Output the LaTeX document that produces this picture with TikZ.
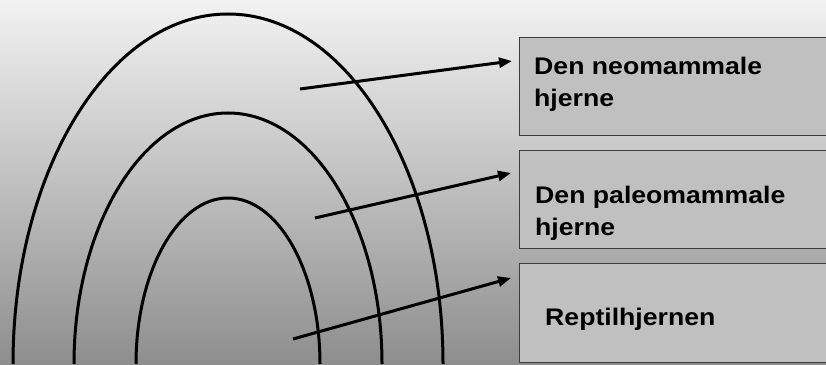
\documentclass[tikz,border=0pt]{standalone}
\usepackage{fontspec}
\setmainfont{Liberation Sans}[FakeStretch=1.11]
\usetikzlibrary{arrows.meta,calc}
\definecolor{bgtop}{RGB}{242,242,242}
\definecolor{bgbot}{RGB}{142,142,142}
\definecolor{boxfill}{RGB}{192,192,192}
\definecolor{boxline}{RGB}{60,60,60}
\tikzset{
  arch/.style={line width=3pt,black},
  pointer/.style={line width=3pt,black,-{Triangle[length=13pt,width=10pt]}},
  brainbox/.style={draw=boxline,line width=1.3pt,fill=boxfill,anchor=north west,
    minimum width=330pt,inner sep=0pt},
  label/.style={font=\fontsize{24}{32}\selectfont\bfseries,inner sep=0pt,align=left}
}
\begin{document}
\begin{tikzpicture}[x=1pt,y=1pt]
\useasboundingbox (0,0) rectangle (826,364);
\clip (0,0) rectangle (826,364);
\shade[top color=bgtop,bottom color=bgbot] (0,0) rectangle (826,364);
% arches
\draw[arch] (13,0) arc[start angle=180,end angle=0,x radius=215,y radius=350];
\draw[arch] (74,0) arc[start angle=180,end angle=0,x radius=154,y radius=251];
\draw[arch] (136,0) arc[start angle=180,end angle=0,x radius=92,y radius=166];
% boxes
\node[brainbox,minimum height=98pt] (b1) at (519,327) {};
\node[brainbox,minimum height=98pt] (b2) at (519,214) {};
\node[brainbox,minimum height=99pt] (b3) at (519,101) {};
\node[label,anchor=north west] (t1) at (534,307.5) {Den neomammale\\hjerne};
\node[label,anchor=north west] (t2) at (535,178.5) {Den paleomammale\\hjerne};
\node[label,anchor=base west] (t3) at (545,39) {Reptilhjernen};
% arrows
\coordinate (s1) at (300,275);
\coordinate (s2) at (315,146);
\coordinate (s3) at (293,25);
\draw[pointer] (s1) -- ($(b1.north west)+(-7,-24)$);
\draw[pointer] (s2) -- ($(b2.north west)+(-8,-23)$);
\draw[pointer] (s3) -- ($(b3.north west)+(-8,-15)$);
\end{tikzpicture}
\end{document}
